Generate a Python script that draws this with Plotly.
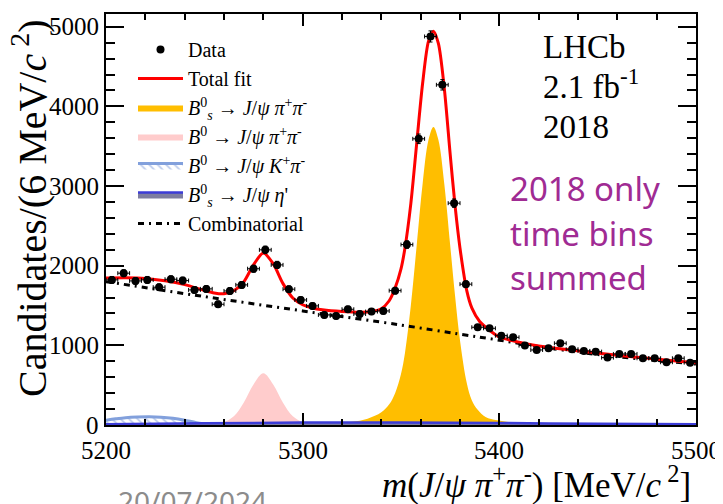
import plotly.graph_objects as go

# ---------------- data ----------------
bin_centers = [5203, 5209, 5215, 5221, 5227, 5233, 5239, 5245, 5251, 5257,
               5263, 5269, 5275, 5281, 5287, 5293, 5299, 5305, 5311, 5317,
               5323, 5329, 5335, 5341, 5347, 5353, 5359, 5365, 5371, 5377,
               5383, 5389, 5395, 5401, 5407, 5413, 5419, 5425, 5431, 5437,
               5443, 5449, 5455, 5461, 5467, 5473, 5479, 5485, 5491, 5497]
counts = [1822, 1906, 1809, 1822, 1730, 1830, 1813, 1696, 1709, 1516,
          1683, 1759, 1962, 2199, 2010, 1705, 1570, 1495, 1382, 1369,
          1453, 1394, 1424, 1432, 1687, 2265, 3593, 4878, 4271, 2785,
          1768, 1227, 1214, 1122, 1101, 997, 942, 963, 1026, 951,
          930, 921, 846, 892, 892, 838, 838, 788, 838, 783]

total_x = [5200, 5210, 5220, 5230, 5240, 5250, 5255, 5260, 5265, 5270, 5275,
           5280, 5285, 5290, 5295, 5300, 5305, 5310, 5320, 5330, 5335, 5340,
           5344, 5347, 5350, 5352, 5355, 5358, 5361, 5364, 5366.5, 5369, 5372,
           5375, 5377.5, 5380, 5383.5, 5386, 5390, 5395, 5400, 5410, 5420,
           5435, 5453, 5470, 5487, 5500]
total_y = [1845, 1848, 1840, 1810, 1762, 1690, 1658, 1648, 1685, 1795, 2010,
           2160, 2025, 1775, 1595, 1510, 1468, 1446, 1424, 1415, 1424, 1460,
           1560, 1720, 1960, 2220, 2780, 3540, 4290, 4820, 4945, 4790, 4230,
           3400, 2750, 2220, 1680, 1470, 1300, 1190, 1105, 1040, 992,
           945, 895, 852, 810, 780]

bs_x = [5200, 5280, 5300, 5315, 5325, 5333, 5340, 5344, 5347, 5350, 5352,
        5355, 5358, 5361, 5364, 5366.5, 5369, 5372, 5375, 5377.5, 5380,
        5383.5, 5386, 5389, 5393, 5399, 5410, 5425, 5450, 5500]
bs_y = [0, 2, 5, 18, 40, 80, 160, 260, 400, 640, 900,
        1500, 2260, 3030, 3580, 3740, 3580, 3030, 2260, 1620, 1060,
        520, 310, 190, 100, 59, 25, 10, 3, 0]

b0_x = [5240, 5255, 5260, 5265, 5270, 5275, 5280, 5285, 5290, 5295, 5300, 5305, 5320]
b0_y = [0, 12, 38, 110, 280, 510, 650, 510, 280, 110, 38, 12, 0]

kpi_x = [5200, 5205, 5210, 5216, 5222, 5228, 5234, 5240, 5246, 5252, 5260]
kpi_y = [60, 78, 92, 100, 103, 98, 84, 60, 30, 10, 0]

etap_x = [5200, 5250, 5300, 5350, 5400, 5450, 5500]
etap_y = [10, 22, 30, 30, 25, 15, 10]

comb_x = [5200, 5250, 5300, 5350, 5380, 5400, 5420, 5450, 5500]
comb_y = [1800, 1612, 1432, 1255, 1140, 1065, 985, 885, 765]

x_ticks = [5200, 5300, 5400, 5500]
x_ticktext = ["5200", "5300", "5400", "5500"]
y_ticks = [0, 1000, 2000, 3000, 4000, 5000]
y_ticktext = ["0", "1000", "2000", "3000", "4000", "5000"]

# ---------------- geometry (page pixels; page body adds an 8px offset) ----------------
OFF = 8
W, H = 723 - OFF, 504 - OFF
L, R, T, B = 106 - OFF, 27, 14 - OFF, 79
PW, PH = W - L - R, H - T - B


def px(x):  # page x -> paper
    return (x - OFF - L) / PW


def py(y):  # page y -> paper
    return (H - B - (y - OFF)) / PH


serif = "Liberation Serif"

fig = go.Figure()

fig.add_trace(go.Scatter(
    x=bs_x, y=bs_y, mode="lines", line=dict(width=0, shape="spline"),
    fill="tozeroy", fillcolor="rgb(255,190,0)",
    name="<i>B</i><sup>0</sup><sub><i>s</i></sub> → <i>J</i>/<i>ψ</i> <i>π</i><sup>+</sup><i>π</i><sup>-</sup>",
    legendrank=3))
fig.add_trace(go.Scatter(
    x=b0_x, y=b0_y, mode="lines", line=dict(width=0, shape="spline"),
    fill="tozeroy", fillcolor="rgb(255,204,204)",
    name="<i>B</i><sup>0</sup> → <i>J</i>/<i>ψ</i> <i>π</i><sup>+</sup><i>π</i><sup>-</sup>",
    legendrank=4))
fig.add_trace(go.Scatter(
    x=kpi_x, y=kpi_y, mode="lines",
    line=dict(width=3, color="rgb(130,160,220)", shape="spline"),
    fill="tozeroy", fillcolor="rgba(255,255,255,0)",
    fillpattern=dict(shape="\\", fgcolor="rgb(120,150,215)", bgcolor="rgba(255,255,255,0)",
                     size=6, solidity=0.3),
    name="<i>B</i><sup>0</sup> → <i>J</i>/<i>ψ</i> <i>K</i><sup>+</sup><i>π</i><sup>-</sup>",
    legendrank=5))
fig.add_trace(go.Scatter(
    x=etap_x, y=etap_y, mode="lines",
    line=dict(width=2.5, color="rgb(60,60,215)", shape="spline"),
    fill="tozeroy", fillcolor="rgb(125,125,160)",
    name="<i>B</i><sup>0</sup><sub><i>s</i></sub> → <i>J</i>/<i>ψ</i> <i>η</i>'",
    legendrank=6))
fig.add_trace(go.Scatter(
    x=comb_x, y=comb_y, mode="lines",
    line=dict(width=3, color="black", dash="6px,5px,2px,5px", shape="spline"),
    name="Combinatorial", legendrank=7))
fig.add_trace(go.Scatter(
    x=total_x, y=total_y, mode="lines",
    line=dict(width=3, color="rgb(255,0,0)", shape="spline", smoothing=0.8),
    name="Total fit", legendrank=2))
fig.add_trace(go.Scatter(
    x=bin_centers, y=counts, mode="markers",
    marker=dict(color="black", size=8),
    error_y=dict(type="sqrt", color="black", thickness=1, width=2),
    error_x=dict(type="constant", value=3, color="black", thickness=1, width=2),
    name="Data", legendrank=1))

axis_common = dict(
    showline=True, linecolor="black", linewidth=1.5, mirror="allticks",
    ticks="inside", tickcolor="black", tickwidth=1.5,
    showgrid=False, zeroline=False, automargin=False, showticklabels=False,
)

fig.update_xaxes(range=[5200, 5500], tickvals=x_ticks, ticklen=12,
                 minor=dict(dtick=20, ticklen=6, ticks="inside", tickcolor="black", tickwidth=1.5),
                 **axis_common)
fig.update_yaxes(range=[0, 5160], tickvals=y_ticks, ticklen=18,
                 minor=dict(dtick=200, ticklen=9, ticks="inside", tickcolor="black", tickwidth=1.5),
                 **axis_common)

ann = []
# tick labels (serif, as in the reference)
for v, t in zip(x_ticks, x_ticktext):
    ann.append(dict(text=t, x=v, xref="x", y=py(450), yref="paper", xanchor="center", yanchor="middle",
                    font=dict(family=serif, size=25, color="black")))
for v, t in zip(y_ticks, y_ticktext):
    ann.append(dict(text=t, x=px(101), xref="paper", y=v, yref="y", xanchor="right", yanchor="middle",
                    font=dict(family=serif, size=25, color="black")))

ann.append(dict(text="LHCb", x=px(541), y=py(47), xanchor="left", yanchor="middle",
                font=dict(family=serif, size=33, color="black")))
ann.append(dict(text="2.1 fb<sup>-1</sup>", x=px(541), y=py(84), xanchor="left", yanchor="middle",
                font=dict(family=serif, size=33, color="black")))
ann.append(dict(text="2018", x=px(541), y=py(127), xanchor="left", yanchor="middle",
                font=dict(family=serif, size=33, color="black")))
purple = "rgb(160,43,147)"
for txt, yy in [("2018 only", 188), ("time bins", 233), ("summed", 277)]:
    ann.append(dict(text=txt, x=px(508), y=py(yy), xanchor="left", yanchor="middle",
                    font=dict(family="Noto Sans", size=33, color=purple)))
ann.append(dict(text="20/07/2024", x=px(192), y=py(501), xanchor="center", yanchor="middle",
                font=dict(family="Noto Sans", size=28, color="rgb(140,140,140)")))
ann.append(dict(text="<i>m</i>(<i>J</i>/<i>ψ</i> <i>π</i><sup>+</sup><i>π</i><sup>-</sup>) [MeV/<i>c</i><sup> 2</sup>]",
                x=px(693), y=py(482), xanchor="right", yanchor="middle",
                font=dict(family=serif, size=35, color="black")))
ann.append(dict(text="Candidates/(6 MeV/<i>c</i><sup> 2</sup>)", textangle=-90,
                x=px(29), y=py(208), xanchor="center", yanchor="middle",
                font=dict(family=serif, size=40, color="black")))
for a in ann:
    a.setdefault("xref", "paper")
    a.setdefault("yref", "paper")
    a.update(showarrow=False)

fig.update_layout(
    width=W, height=H,
    margin=dict(l=L, r=R, t=T, b=B, autoexpand=False),
    plot_bgcolor="white", paper_bgcolor="white",
    font=dict(family="Times New Roman", color="black"),
    showlegend=True,
    legend=dict(x=px(133), y=py(30), xanchor="left", yanchor="top",
                bgcolor="rgba(0,0,0,0)", font=dict(family="Times New Roman", size=20, color="black"),
                itemwidth=45, tracegroupgap=0, traceorder="normal"),
    annotations=ann,
)

fig.write_html("out.html")
